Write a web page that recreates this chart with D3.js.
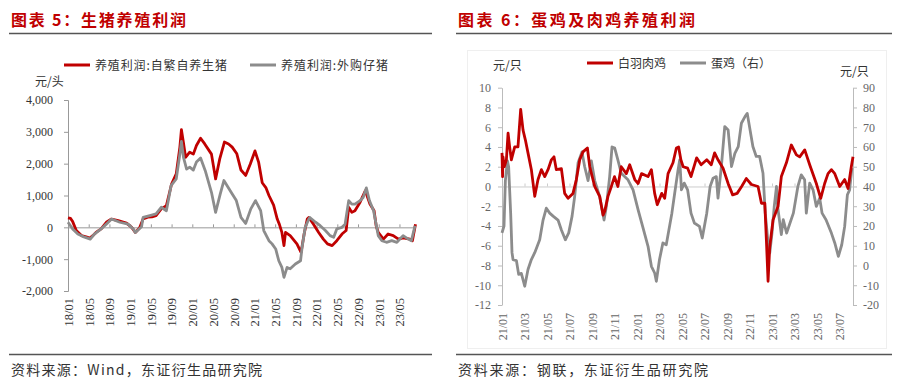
<!DOCTYPE html>
<html>
<head>
<meta charset="utf-8">
<script src="https://cdn.jsdelivr.net/npm/d3@7"></script>
<style>
  body { margin: 0; background: #fff; }
  svg { display: block; }
  .num { font-family: "Liberation Serif", "DejaVu Serif", serif; font-size: 12px; }
  .cjk { font-family: "Noto Sans CJK SC", sans-serif; }
</style>
</head>
<body>
<svg id="chart" width="901" height="383"></svg>
<script>
// ---- left panel: pig farming profit, x = months since 2018/01 ----
var pigTickMonths = [0, 4, 8, 12, 16, 20, 24, 28, 32, 36, 40, 44, 48, 52, 56, 60, 64];
var pigTickLabels = ["18/01", "18/05", "18/09", "19/01", "19/05", "19/09", "20/01", "20/05", "20/09",
  "21/01", "21/05", "21/09", "22/01", "22/05", "22/09", "23/01", "23/05"];
var pigYTicks = [-2000, -1000, 0, 1000, 2000, 3000, 4000];
var pigSeriesNames = ["养殖利润:自繁自养生猪", "养殖利润:外购仔猪"];

var pigSelf = [[0,300],[0.5,280],[0.9,180],[1.6,-100],[2.6,-260],[3.5,-300],[4.2,-340],[4.8,-260],[5.4,-160],
  [6.4,-50],[7.4,160],[8.4,260],[9.7,210],[11.3,130],[12.3,0],[13.0,-160],[13.8,-20],[14.5,260],[15.4,320],
  [16.2,330],[17.0,370],[18.0,580],[19.0,680],[20.0,1360],[20.9,1680],[21.6,2520],[21.9,3070],[22.3,2650],
  [22.7,2200],[23.5,2360],[24.2,2300],[24.8,2570],[25.6,2800],[26.4,2620],[27.7,2300],[28.5,1520],[29.3,2150],
  [30.2,2680],[31.0,2620],[31.7,2520],[32.6,2310],[33.4,1800],[34.3,1630],[35.2,1990],[36.1,2400],[36.8,2050],
  [37.5,1400],[38.2,1250],[38.8,1000],[39.7,700],[40.4,260],[40.8,100],[41.3,-160],[41.7,-575],[42.0,-160],
  [42.9,-260],[44.2,-520],[45.0,-790],[45.6,-200],[46.2,260],[46.5,310],[47.4,100],[48.4,-160],[49.3,-370],
  [50.1,-520],[51.0,-575],[51.9,-420],[52.9,-210],[53.7,-100],[54.2,630],[54.8,470],[55.4,520],[56.4,790],
  [57.4,1150],[58.3,730],[59.1,520],[59.5,50],[59.9,-160],[60.9,-370],[61.8,-210],[62.8,-260],[63.8,-370],
  [64.7,-330],[66.0,-370],[66.5,-420],[67.1,100]];

var pigBought = [[0,160],[0.9,-50],[1.9,-210],[3.2,-310],[4.3,-370],[5.1,-210],[6.4,-50],[7.4,100],[8.4,260],
  [10.0,160],[11.6,100],[12.6,-50],[13.0,-160],[14.2,20],[14.5,310],[15.8,370],[17.0,420],[18.0,630],[19.0,520],
  [19.9,1310],[20.9,1520],[21.6,2300],[21.9,2700],[22.3,2200],[22.9,1830],[23.5,1890],[24.2,1800],[24.8,2050],
  [25.6,2180],[26.5,1780],[27.7,1100],[28.5,470],[29.4,1050],[30.1,1470],[31.5,1100],[32.5,840],[33.4,310],
  [34.3,120],[35.3,580],[36.2,840],[37.2,525],[37.8,-100],[38.8,-420],[39.4,-520],[40.1,-680],[40.7,-1050],
  [41.3,-1260],[41.7,-1570],[42.3,-1260],[42.9,-1300],[43.9,-1150],[44.9,-1050],[45.2,-630],[45.8,0],[46.5,260],
  [46.7,310],[47.8,160],[48.7,50],[49.7,-100],[50.6,-260],[51.3,-310],[51.9,-50],[52.9,0],[53.5,100],[54.2,840],
  [54.8,730],[55.4,730],[56.4,840],[57.0,940],[57.6,1240],[58.2,840],[59.0,520],[59.6,0],[59.9,-260],[60.6,-420],
  [61.5,-470],[62.5,-420],[63.5,-470],[64.7,-260],[65.7,-370],[66.3,-420],[67.0,50]];

// ---- right panel: broiler / layer profit, x = months since 2021/01 ----
var chickTickMonths = [0, 2, 4, 6, 8, 10, 12, 14, 16, 18, 20, 22, 24, 26, 28, 30];
var chickTickLabels = ["21/01", "21/03", "21/05", "21/07", "21/09", "21/11", "22/01", "22/03", "22/05",
  "22/07", "22/09", "22/11", "23/01", "23/03", "23/05", "23/07"];
var chickLeftTicks = [-12, -10, -8, -6, -4, -2, 0, 2, 4, 6, 8, 10];
var chickRightTicks = [-20, -10, 0, 10, 20, 30, 40, 50, 60, 70, 80, 90];
var chickSeriesNames = ["白羽肉鸡", "蛋鸡（右）"];

var broiler = [[0,3.4],[0.05,1.0],[0.09,3.0],[0.2,2.0],[0.39,2.7],[0.54,5.4],[0.68,4.0],[0.83,2.7],[1.13,4.0],
  [1.42,4.0],[1.66,7.8],[1.87,5.7],[2.08,4.7],[2.31,3.4],[2.61,1.7],[2.91,-1.0],[3.2,0.7],[3.5,1.7],[3.8,1.0],
  [4.09,1.7],[4.39,2.7],[4.62,3.0],[4.83,1.7],[5.28,1.8],[5.57,-0.7],[5.87,-1.2],[6.31,-0.7],[6.61,0.7],
  [6.91,2.7],[7.2,3.5],[7.59,3.9],[7.8,2.0],[8.24,0],[8.68,-1.0],[8.98,-2.9],[9.13,-2.5],[9.42,-1.0],[9.72,0],
  [10.0,1.0],[10.3,0],[10.6,2.0],[11.05,1.3],[11.35,2.2],[11.8,0.7],[12.1,0.3],[12.4,1.3],[12.98,1.0],[13.28,1.7],
  [13.57,-0.7],[13.8,-1.85],[14.2,-0.7],[14.46,-1.2],[14.76,1.3],[15.2,2.4],[15.5,3.9],[15.7,4.0],[15.9,2.7],
  [16.1,2.0],[16.5,1.85],[16.8,1.0],[17.3,2.9],[17.7,2.2],[18.2,2.7],[18.6,2.2],[18.9,3.4],[19.2,2.7],[19.65,1.85],
  [20.1,0.3],[20.5,-0.85],[20.9,-0.7],[21.3,0],[21.72,0.8],[22.17,0.2],[22.76,0],[23.06,-1.7],[23.36,-1.7],
  [23.5,-5.4],[23.65,-9.6],[23.8,-6.1],[24.09,-3.4],[24.54,-2.0],[24.83,1.0],[25.28,2.4],[25.72,4.2],[26.17,3.2],
  [26.46,3.0],[26.91,3.7],[27.35,2.2],[27.94,0.3],[28.33,-1.2],[28.68,0.3],[28.98,1.3],[29.28,1.7],[29.58,1.3],
  [30.02,0],[30.46,0.7],[30.76,-0.2],[31.05,2.0],[31.2,3.0]];

var layer = [[0,16.5],[0.18,20],[0.3,43],[0.48,53],[0.59,50],[0.77,26.5],[0.89,6.5],[0.98,3],[1.28,2.5],
  [1.48,-4.5],[1.72,-4],[2.02,-10.5],[2.31,-2],[2.61,3],[2.91,6.5],[3.35,13],[3.65,23],[3.94,29],[4.24,26.5],
  [4.54,25],[4.98,23],[5.28,18],[5.63,13],[5.93,16.5],[6.23,25],[6.46,35],[6.76,52],[7.11,57.5],[7.35,50],
  [7.65,43],[7.94,53],[8.24,43],[8.68,35],[9.07,23],[9.28,30],[9.57,45],[9.78,60],[10.02,59.4],[10.3,53.5],
  [10.6,46.7],[11.2,43.4],[11.65,38.3],[12.1,28.2],[12.5,19.8],[12.98,9.7],[13.28,-0.4],[13.57,-3.8],[13.72,-8.0],
  [14.0,3.0],[14.3,11.4],[14.6,10.5],[15.1,26.5],[15.35,36.6],[15.65,48.4],[15.8,53.5],[15.95,38.3],[16.2,41.7],
  [16.5,38.3],[16.8,26.5],[17.1,21.5],[17.55,19.8],[17.8,13.9],[18.2,26.5],[18.5,40],[18.76,44.2],[19.05,45],
  [19.2,34.1],[19.5,50.1],[19.8,70.3],[20.1,68.6],[20.4,50.1],[20.7,56.8],[21.0,60.2],[21.28,72],[21.6,75.4],
  [21.8,77],[22.0,70.3],[22.3,60.2],[22.6,55.2],[22.9,55.2],[23.2,46.7],[23.4,26.5],[23.65,11.4],[23.8,6.3],
  [24.0,16.4],[24.2,29.9],[24.4,40],[24.5,29.9],[24.83,15.6],[25.0,23.2],[25.3,16.4],[25.6,21.5],[25.9,26.5],
  [26.3,40],[26.6,45.9],[26.9,43.4],[27.05,26.5],[27.35,41.7],[27.65,38.3],[27.94,29.9],[28.24,34.1],[28.45,26.5],
  [28.8,23.2],[29.28,16.4],[29.58,11.4],[29.9,4.6],[30.2,10.5],[30.46,19.8],[30.7,35.8],[30.9,38.3],[31.1,49.3]];

var RED = "#c00000", GREY = "#8c8c8c";
var svg = d3.select("#chart");

function fmtNum(d) { return d3.format(",")(d).replace("\u2212", "-"); }

// shared page furniture: title, rules, source line
function frame(x0, x1, title, titleLen, source, sourceLen) {
  svg.append("text").attr("class", "cjk")
    .attr("x", x0 + 2).attr("y", 26)
    .attr("font-size", 16).attr("font-weight", "bold").attr("fill", RED)
    .attr("textLength", titleLen).attr("lengthAdjust", "spacing")
    .text(title);
  svg.append("line").attr("x1", x0).attr("x2", x1).attr("y1", 33.5).attr("y2", 33.5)
    .attr("stroke", "#555").attr("stroke-width", 1.5);
  svg.append("line").attr("x1", x0).attr("x2", x1).attr("y1", 354.5).attr("y2", 354.5)
    .attr("stroke", "#555").attr("stroke-width", 1.5);
  svg.append("text").attr("class", "cjk")
    .attr("x", x0 + 2).attr("y", 375)
    .attr("font-size", 14).attr("fill", "#333")
    .attr("textLength", sourceLen).attr("lengthAdjust", "spacing")
    .text(source);
}

function legendItem(x, y, color, label, len) {
  svg.append("line").attr("x1", x).attr("x2", x + 26).attr("y1", y).attr("y2", y)
    .attr("stroke", color).attr("stroke-width", 3);
  var t = svg.append("text").attr("class", "cjk")
    .attr("x", x + 31).attr("y", y + 4.5)
    .attr("font-size", 12).attr("fill", "#333")
    .text(label);
  if (len) t.attr("textLength", len).attr("lengthAdjust", "spacing");
}

// ================= left panel =================
frame(9, 432, "图表 5：生猪养殖利润", 175, "资料来源：Wind，东证衍生品研究院", 251);

var xL = d3.scaleLinear().domain([0, 67]).range([68, 415]);
var yL = d3.scaleLinear().domain([-2000, 4000]).range([291, 100]);

legendItem(64, 65, RED, pigSeriesNames[0], 132);
legendItem(250, 65, GREY, pigSeriesNames[1], 107);

svg.append("text").attr("class", "cjk").attr("x", 35).attr("y", 86)
  .attr("font-size", 12).attr("fill", "#333").text("元/头");

var gL = svg.append("g");

gL.append("g")
  .attr("class", "num")
  .attr("transform", "translate(" + xL(0) + ",0)")
  .call(d3.axisLeft(yL).tickValues(pigYTicks).tickSize(4).tickPadding(11).tickFormat(fmtNum))
  .call(function (g) {
    g.select(".domain").attr("stroke", "#999");
    g.selectAll(".tick line").attr("stroke", "#999");
    g.selectAll("text").attr("fill", "#333").attr("font-size", 12).attr("font-family", "Liberation Serif");
  });

gL.append("g")
  .attr("transform", "translate(0," + yL(0) + ")")
  .call(d3.axisTop(xL).tickValues(pigTickMonths.concat([67])).tickSize(3).tickSizeOuter(0).tickFormat(""))
  .call(function (g) {
    g.select(".domain").attr("stroke", "#999");
    g.selectAll(".tick line").attr("stroke", "#999");
    g.selectAll(".tick").filter(function (d) { return d === 0 || d === 67; }).remove();
  });

gL.append("g")
  .attr("transform", "translate(0,292)")
  .call(d3.axisBottom(xL).tickValues(pigTickMonths).tickSize(0)
    .tickFormat(function (d, i) { return pigTickLabels[i]; }))
  .call(function (g) {
    g.select(".domain").remove();
    g.selectAll("text")
      .attr("transform", "rotate(-90)")
      .attr("x", -6).attr("y", 0).attr("dy", "0.35em")
      .attr("text-anchor", "end")
      .attr("fill", "#333").attr("font-size", 12.5).attr("font-family", "Liberation Serif");
  });

var lineL = d3.line().x(function (d) { return xL(d[0]); }).y(function (d) { return yL(d[1]); });
gL.append("path").datum(pigSelf).attr("d", lineL)
  .attr("fill", "none").attr("stroke", RED).attr("stroke-width", 2.8).attr("stroke-linejoin", "round");
gL.append("path").datum(pigBought).attr("d", lineL)
  .attr("fill", "none").attr("stroke", GREY).attr("stroke-width", 2.8).attr("stroke-linejoin", "round");

// ================= right panel =================
frame(456, 892, "图表 6：蛋鸡及肉鸡养殖利润", 237, "资料来源：钢联，东证衍生品研究院", 250);

svg.append("rect").attr("x", 467.5).attr("y", 50.5).attr("width", 419).attr("height", 298)
  .attr("fill", "none").attr("stroke", "#efefef");

var xR = d3.scaleLinear().domain([0, 31.2]).range([502, 853]);
var yRL = d3.scaleLinear().domain([-12, 10]).range([305, 87.7]);
var yRR = d3.scaleLinear().domain([-20, 90]).range([305, 87.7]);

legendItem(587, 63, RED, chickSeriesNames[0]);
legendItem(680, 63, GREY, chickSeriesNames[1]);

svg.append("text").attr("class", "cjk").attr("x", 493).attr("y", 70)
  .attr("font-size", 12).attr("fill", "#333").text("元/只");
svg.append("text").attr("class", "cjk").attr("x", 840).attr("y", 76)
  .attr("font-size", 12).attr("fill", "#333").text("元/只");

var gR = svg.append("g");

function styleAxis(g) {
  g.select(".domain").attr("stroke", "#bbb");
  g.selectAll(".tick line").attr("stroke", "#bbb");
  g.selectAll("text").attr("fill", "#666").attr("font-size", 12).attr("font-family", "Liberation Serif");
}

gR.append("g")
  .attr("transform", "translate(" + xR(0) + ",0)")
  .call(d3.axisLeft(yRL).tickValues(chickLeftTicks).tickSize(4).tickPadding(7).tickSizeOuter(0).tickFormat(fmtNum))
  .call(styleAxis);

gR.append("g")
  .attr("transform", "translate(853,0)")
  .call(d3.axisRight(yRR).tickValues(chickRightTicks).tickSize(4).tickPadding(6).tickSizeOuter(0).tickFormat(fmtNum))
  .call(styleAxis);

gR.append("g")
  .attr("transform", "translate(0," + yRL(0) + ")")
  .call(d3.axisTop(xR).tickValues(chickTickMonths).tickSize(3).tickSizeOuter(0).tickFormat(""))
  .call(function (g) {
    g.select(".domain").attr("stroke", "#ccc");
    g.selectAll(".tick line").attr("stroke", "#ccc");
    g.selectAll(".tick").filter(function (d) { return d === 0; }).remove();
  });

gR.append("g")
  .attr("transform", "translate(0,306)")
  .call(d3.axisBottom(xR).tickValues(chickTickMonths).tickSize(0)
    .tickFormat(function (d, i) { return chickTickLabels[i]; }))
  .call(function (g) {
    g.select(".domain").remove();
    g.selectAll("text")
      .attr("transform", "rotate(-90)")
      .attr("x", -7).attr("y", 0).attr("dy", "0.35em")
      .attr("text-anchor", "end")
      .attr("fill", "#666").attr("font-size", 12).attr("font-family", "Liberation Serif");
  });

var lineBroiler = d3.line().x(function (d) { return xR(d[0]); }).y(function (d) { return yRL(d[1]); });
var lineLayer = d3.line().x(function (d) { return xR(d[0]); }).y(function (d) { return yRR(d[1]); });
gR.append("path").datum(layer).attr("d", lineLayer)
  .attr("fill", "none").attr("stroke", GREY).attr("stroke-width", 2.8).attr("stroke-linejoin", "round");
gR.append("path").datum(broiler).attr("d", lineBroiler)
  .attr("fill", "none").attr("stroke", RED).attr("stroke-width", 2.8).attr("stroke-linejoin", "round");
</script>
</body>
</html>
